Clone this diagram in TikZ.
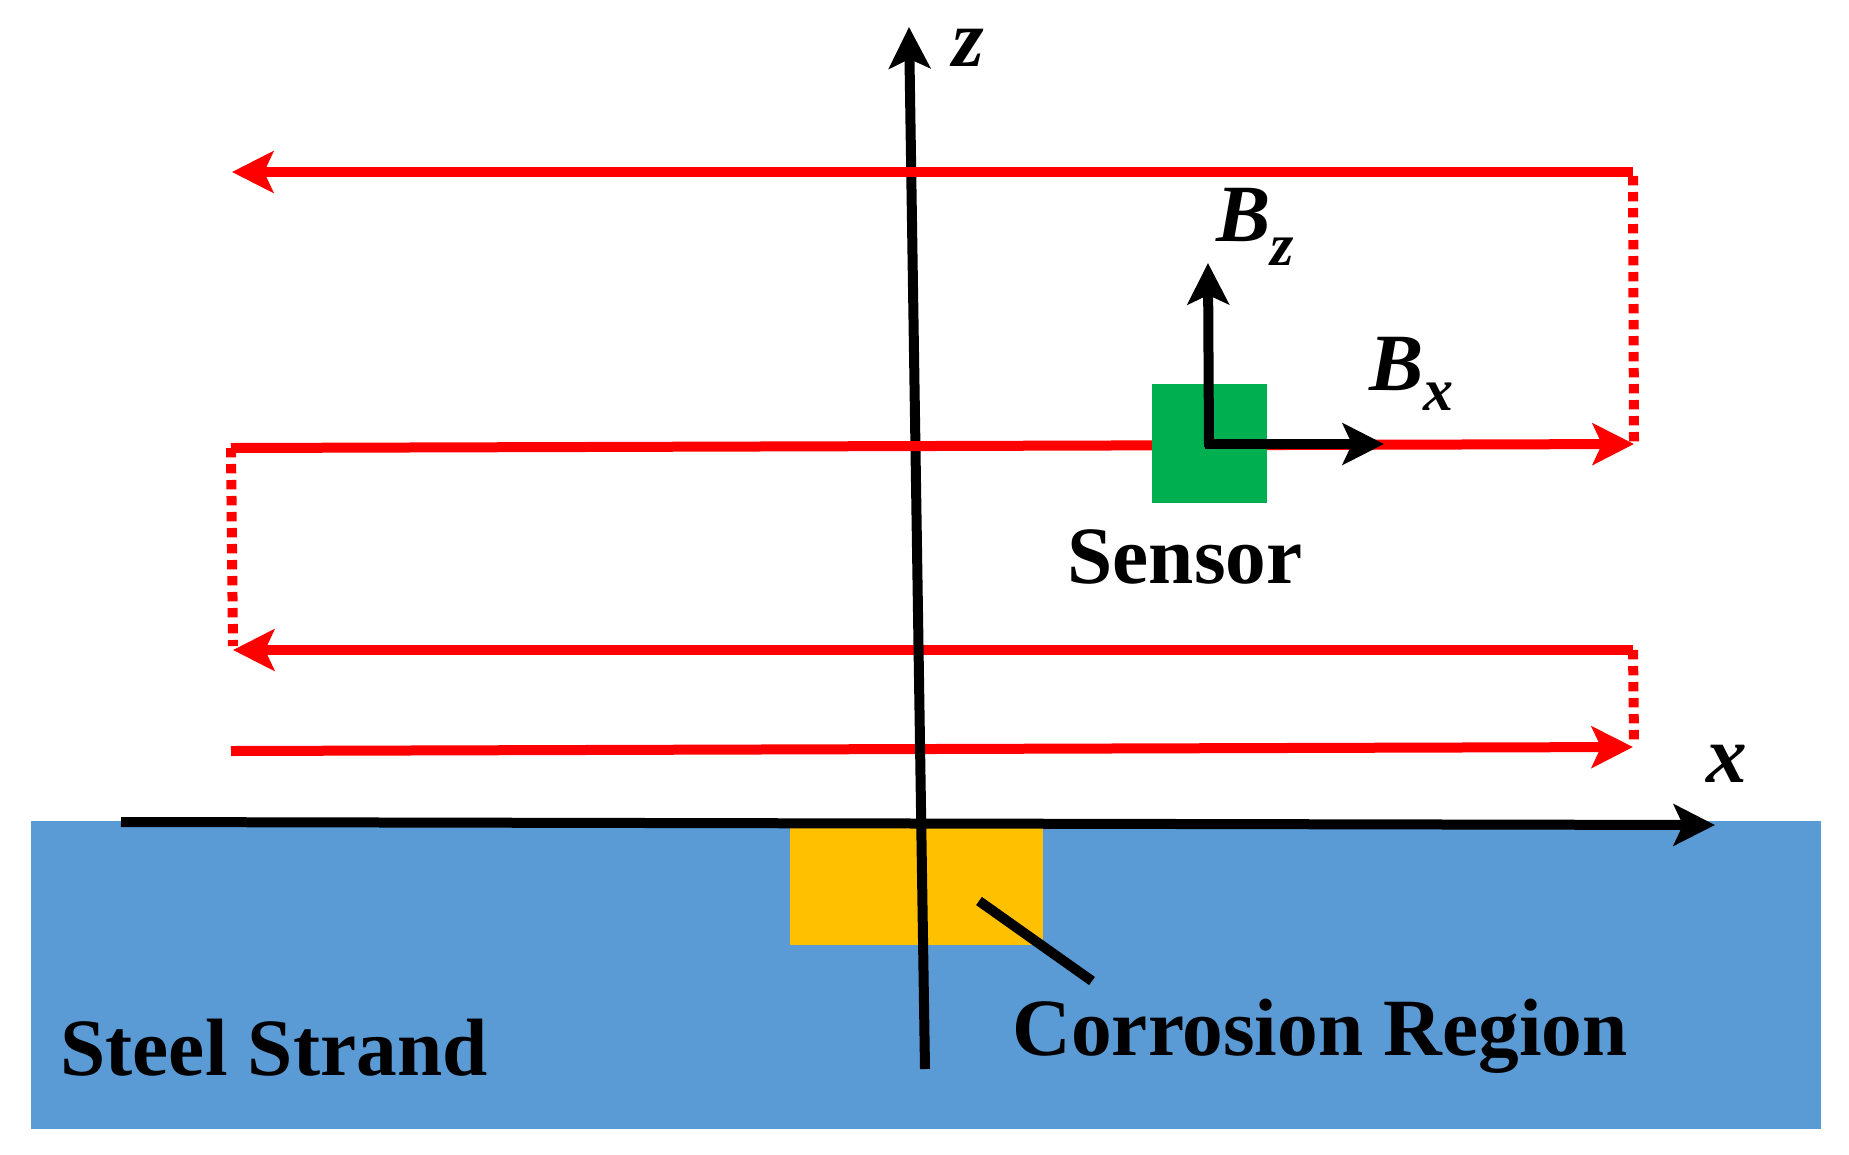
\documentclass[tikz,border=0pt]{standalone}
\usepackage{fontspec}
\setmainfont{Liberation Serif}
\usetikzlibrary{arrows.meta}

\definecolor{strandblue}{RGB}{91,155,213}
\definecolor{corrosionorange}{RGB}{255,192,0}
\definecolor{sensorgreen}{RGB}{0,176,80}

\tikzset{every picture/.style={line width=0.75pt}}
\tikzset{
  headtip/.style={-{Stealth[length=31pt,width=31pt,inset=7pt]}},
  redline/.style={draw=red,line width=7.5pt,headtip},
  reddots/.style={draw=red,line width=7.5pt,dash pattern=on 7pt off 5pt},
  blackline/.style={draw=black,line width=7.5pt},
  blackarrow/.style={blackline,headtip},
  bigtext/.style={font=\fontsize{61}{73}\selectfont\bfseries,inner sep=0pt,anchor=base west},
  bigitalic/.style={bigtext,font=\fontsize{61}{73}\selectfont\bfseries\itshape},
}
\newcommand{\subfont}{\fontsize{45}{54}\selectfont}

\begin{document}
\begin{tikzpicture}[x=0.75pt,y=0.75pt,yscale=-1,xscale=1]
\useasboundingbox (0,0) rectangle (1849,1154);

%Shapes
\fill[strandblue] (31,821) rectangle (1821,1129);
\fill[corrosionorange] (790,826) rectangle (1043,945);

%Points of the field lines
\coordinate (topright) at (1633,172);
\coordinate (topleft) at (232,172);
\coordinate (upperleft) at (231,448);
\coordinate (upperright) at (1634,444);
\coordinate (rightdotstop) at (1633,176);
\coordinate (leftdotstop) at (231,448);
\coordinate (leftdotsend) at (233,646);
\coordinate (lowerright) at (1633,650);
\coordinate (lowerleft) at (233,650);
\coordinate (bottomleft) at (231,751);
\coordinate (bottomright) at (1633,747);
\coordinate (lowerdotsend) at (1634,741);

%Dotted Lines
\draw[reddots] (rightdotstop) -- (upperright);
\draw[reddots] (leftdotstop) -- (leftdotsend);
\draw[reddots] (lowerright) -- (lowerdotsend);

%Lower Red Lines
\draw[redline] (lowerright) -- (lowerleft);
\draw[redline] (bottomleft) -- (bottomright);

%Axes
\coordinate (xstart) at (121,822);
\coordinate (xtip) at (1715,825);
\coordinate (zstart) at (925,1069);
\coordinate (ztip) at (909,27);
\draw[blackarrow] (xstart) -- (xtip);
\draw[blackarrow] (zstart) -- (ztip);

%Upper Red Lines
\draw[redline] (topright) -- (topleft);
\draw[redline] (upperleft) -- (upperright);

%Sensor
\node[fill=sensorgreen,minimum width=86.25pt,minimum height=89.25pt,inner sep=0pt] (sensor) at (1209,443.5) {};
\coordinate (bzfoot) at (1209,447);
\coordinate (bzhead) at (1208,263);
\coordinate (bxfoot) at (1205,444);
\coordinate (bxhead) at (1384,444);
\draw[blackarrow] (bzfoot) -- (bzhead);
\draw[blackarrow] (bxfoot) -- (bxhead);

%Corrosion pointer
\coordinate (pointerstart) at (979,901);
\coordinate (pointerend) at (1092,981);
\draw[blackline] (pointerstart) -- (pointerend);

% Text Node
\node[bigitalic] (zlabel) at (952,66) {z};
% Text Node
\node[bigitalic] (xlabel) at (1706,782) {x};
% Text Node
\node[bigitalic] (bzlabel) at (1216,241) {B\raisebox{-18pt}{\subfont z}};
% Text Node
\node[bigitalic] (bxlabel) at (1369,390) {B\raisebox{-15pt}{\subfont x}};
% Text Node
\node[bigtext] (sensorlabel) at (1067,583) {Sensor};
% Text Node
\node[bigtext] (strandlabel) at (60,1075) {Steel Strand};
% Text Node
\node[bigtext] (corrosionlabel) at (1012,1055) {Corrosion Region};

\end{tikzpicture}
\end{document}
